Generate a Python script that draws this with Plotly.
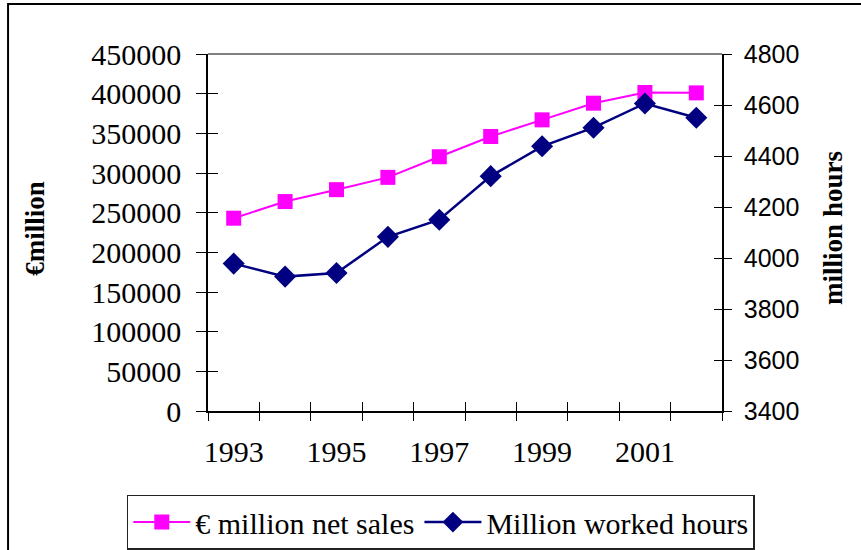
import plotly.graph_objects as go

years = [1993, 1994, 1995, 1996, 1997, 1998, 1999, 2000, 2001, 2002]
net_sales = [243000, 264000, 279000, 294500, 320500, 346000, 367000, 388000, 401500, 401000]
worked_hours = [3978, 3927, 3941, 4083, 4150, 4321, 4438, 4511, 4606, 4550]
x_labels = [1993, 1995, 1997, 1999, 2001]
left_ticks = list(range(0, 450001, 50000))
right_ticks = list(range(3400, 4801, 200))
boundaries = [y - 0.5 for y in years] + [years[-1] + 0.5]

SERIF = "Liberation Serif"
SANS = "Liberation Sans"

fig = go.Figure()
fig.add_trace(go.Scatter(
    x=years, y=net_sales, name="€ million net sales",
    mode="lines+markers",
    line=dict(color="#FF00FF", width=2),
    marker=dict(symbol="square", size=15, color="#FF00FF"),
    xaxis="x", yaxis="y",
))
fig.add_trace(go.Scatter(
    x=years, y=worked_hours, name="Million worked hours",
    mode="lines+markers",
    line=dict(color="#000080", width=2.5),
    marker=dict(symbol="diamond", size=17, color="#000080"),
    xaxis="x", yaxis="y2",
))
# empty helper traces so the crossing-tick overlay axes get drawn
for xa, ya in [("x3", "y"), ("x4", "y"), ("x", "y3"), ("x", "y4")]:
    fig.add_trace(go.Scatter(x=[None], y=[None], mode="markers", xaxis=xa, yaxis=ya,
                             showlegend=False, hoverinfo="skip"))

xr = [years[0] - 0.5, years[-1] + 0.5]
common_x = dict(range=xr, type="linear", showgrid=False, zeroline=False, fixedrange=True)

fig.update_layout(
    width=861, height=550,
    margin=dict(l=208, r=139, t=54, b=139, pad=0, autoexpand=False),
    paper_bgcolor="white", plot_bgcolor="white",
    showlegend=True,
    legend=dict(
        orientation="h", x=-0.158, y=-0.311, xanchor="left", yanchor="middle",
        font=dict(family=SERIF, size=30, color="black"),
        bordercolor="#222222", borderwidth=1.5, bgcolor="white",
        itemwidth=57, tracegroupgap=0,
    ),
    xaxis=dict(
        **common_x, tickmode="array", tickvals=x_labels, ticktext=[str(v) for v in x_labels],
        ticks="", showline=True, linecolor="black", linewidth=1.5,
        tickfont=dict(family=SERIF, size=30, color="black"),
        ticklabelstandoff=13, anchor="y",
    ),
    xaxis3=dict(
        **common_x, overlaying="x", anchor="y", side="bottom",
        tickmode="array", tickvals=boundaries, showticklabels=False,
        ticks="outside", ticklen=9, tickwidth=1.2, tickcolor="black", showline=False,
    ),
    xaxis4=dict(
        **common_x, overlaying="x", anchor="y", side="bottom",
        tickmode="array", tickvals=boundaries, showticklabels=False,
        ticks="inside", ticklen=9, tickwidth=1.2, tickcolor="black", showline=False,
    ),
    yaxis=dict(
        range=[0, 450000], tickmode="array", tickvals=left_ticks,
        ticktext=[str(v) for v in left_ticks],
        showgrid=False, zeroline=False, showline=True, linecolor="black", linewidth=1.5,
        ticks="outside", ticklen=10, tickwidth=1.2, tickcolor="black",
        tickfont=dict(family=SERIF, size=30, color="black"),
        ticklabelstandoff=9, anchor="x", fixedrange=True,
    ),
    yaxis3=dict(
        range=[0, 450000], tickmode="array", tickvals=left_ticks, overlaying="y",
        side="left", anchor="x", showticklabels=False, showgrid=False, zeroline=False,
        ticks="inside", ticklen=10, tickwidth=1.2, tickcolor="black", showline=False,
        fixedrange=True,
    ),
    yaxis2=dict(
        range=[3400, 4800], tickmode="array", tickvals=right_ticks,
        overlaying="y", side="right", anchor="x",
        showgrid=False, zeroline=False, showline=True, linecolor="black", linewidth=1.5,
        ticks="outside", ticklen=8, tickwidth=1.2, tickcolor="black",
        tickfont=dict(family=SANS, size=25, color="black"),
        ticklabelstandoff=7, fixedrange=True,
    ),
    yaxis4=dict(
        range=[3400, 4800], tickmode="array", tickvals=right_ticks,
        overlaying="y", side="right", anchor="x", showticklabels=False,
        showgrid=False, zeroline=False, showline=False,
        ticks="inside", ticklen=8, tickwidth=1.2, tickcolor="black", fixedrange=True,
    ),
    annotations=[
        dict(text="<b>€million</b>", x=-0.337, y=0.513, xref="paper", yref="paper",
             textangle=-90, showarrow=False, xanchor="center", yanchor="middle",
             font=dict(family=SERIF, size=27, color="black")),
        dict(text="<b>million hours</b>", x=1.216, y=0.513, xref="paper", yref="paper",
             textangle=-90, showarrow=False, xanchor="center", yanchor="middle",
             font=dict(family=SERIF, size=27, color="black")),
    ],
    shapes=[
        dict(type="line", xref="paper", yref="paper", x0=0, x1=1, y0=1, y1=1,
             line=dict(color="#808080", width=2)),
        dict(type="rect", xref="paper", yref="paper", x0=-0.389, x1=1.35, y0=-0.5, y1=1.14,
             line=dict(color="black", width=2), layer="below"),
    ],
)

fig.write_html("out.html", config={"displayModeBar": False},
               post_script="document.body.style.margin='0';")
